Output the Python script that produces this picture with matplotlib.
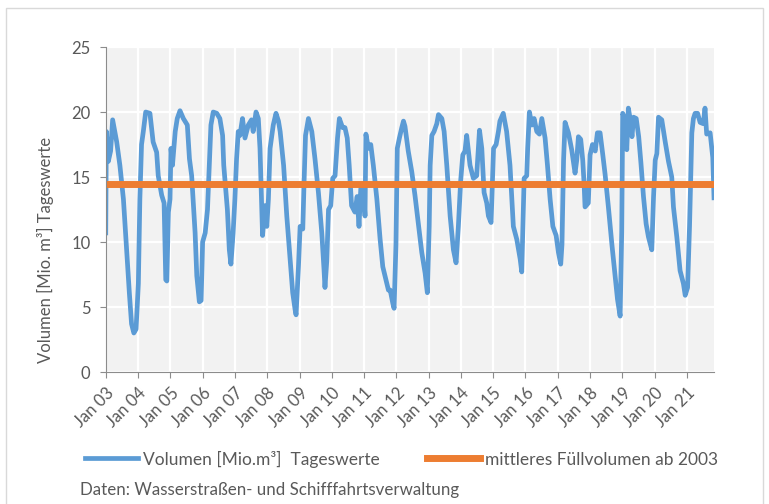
import pandas as pd
import matplotlib.pyplot as plt
import matplotlib.dates as mdates
from matplotlib.patches import Rectangle

plt.rcParams['font.family'] = ['Lato', 'DejaVu Sans']

# Tageswerte (Datum, Volumen in Mio. m³)
dates = [
    '2003-01-01', '2003-01-08', '2003-01-30', '2003-02-25', '2003-03-20', '2003-05-05', '2003-06-10',
    '2003-07-20', '2003-08-25', '2003-09-25', '2003-10-20', '2003-11-15', '2003-12-10',
    '2004-01-05', '2004-01-22', '2004-02-10', '2004-03-01', '2004-03-28', '2004-05-15', '2004-06-20',
    '2004-07-30', '2004-08-17', '2004-09-25', '2004-10-22', '2004-11-10', '2004-11-22', '2004-12-10',
    '2004-12-28',
    '2005-01-08', '2005-01-25', '2005-02-25', '2005-03-20', '2005-04-20', '2005-05-28', '2005-07-12',
    '2005-08-05', '2005-08-30', '2005-10-08', '2005-10-27', '2005-11-25', '2005-12-15',
    '2006-01-01', '2006-01-30', '2006-02-25', '2006-03-18', '2006-04-05', '2006-05-01', '2006-06-10',
    '2006-07-15', '2006-08-15', '2006-08-28', '2006-10-08', '2006-10-30', '2006-11-17', '2006-12-12',
    '2007-01-01', '2007-01-20', '2007-02-08', '2007-02-27', '2007-03-28', '2007-04-25', '2007-06-02',
    '2007-07-08', '2007-07-27', '2007-08-28', '2007-09-23', '2007-10-12', '2007-11-10', '2007-12-07',
    '2007-12-28',
    '2008-01-15', '2008-02-03', '2008-03-10', '2008-04-10', '2008-05-08', '2008-05-27', '2008-07-05',
    '2008-08-10', '2008-09-17', '2008-10-16', '2008-11-12', '2008-11-23', '2008-12-20',
    '2009-01-08', '2009-02-07', '2009-02-22', '2009-03-10', '2009-04-12', '2009-05-20', '2009-06-25',
    '2009-08-03', '2009-09-10', '2009-10-05', '2009-10-16', '2009-11-05', '2009-11-25', '2009-12-20',
    '2010-01-12', '2010-02-07', '2010-03-07', '2010-03-28', '2010-05-03', '2010-05-30', '2010-06-25',
    '2010-07-17', '2010-08-13', '2010-09-20', '2010-10-15', '2010-11-05', '2010-11-25', '2010-12-25',
    '2011-01-12', '2011-01-22', '2011-02-20', '2011-03-18', '2011-04-16', '2011-05-26', '2011-07-02',
    '2011-08-01', '2011-08-26', '2011-10-04', '2011-10-24', '2011-11-22', '2011-12-07', '2011-12-28',
    '2012-01-12', '2012-02-05', '2012-03-03', '2012-03-22', '2012-04-08', '2012-05-15', '2012-06-24',
    '2012-07-30', '2012-09-05', '2012-10-15', '2012-11-22', '2012-12-17',
    '2013-01-07', '2013-01-18', '2013-02-06', '2013-03-03', '2013-04-03', '2013-04-22', '2013-05-30',
    '2013-06-25', '2013-07-25', '2013-09-01', '2013-10-08', '2013-11-07', '2013-12-03', '2013-12-29',
    '2014-01-22', '2014-02-16', '2014-03-07', '2014-04-14', '2014-05-22', '2014-06-28', '2014-07-30',
    '2014-08-25', '2014-09-20', '2014-10-20', '2014-11-08', '2014-12-08',
    '2015-01-05', '2015-02-03', '2015-03-01', '2015-03-18', '2015-04-25', '2015-06-02', '2015-07-10',
    '2015-08-17', '2015-09-25', '2015-11-02', '2015-11-20', '2015-12-17',
    '2016-01-15', '2016-01-26', '2016-02-15', '2016-03-13', '2016-04-08', '2016-05-08', '2016-06-07',
    '2016-07-04', '2016-08-10', '2016-09-06', '2016-10-06', '2016-11-06', '2016-12-13',
    '2017-01-08', '2017-02-03', '2017-02-17', '2017-03-07', '2017-03-24', '2017-05-01', '2017-06-07',
    '2017-07-15', '2017-08-03', '2017-08-22', '2017-09-17', '2017-10-10', '2017-10-25', '2017-11-05',
    '2017-12-12',
    '2018-01-01', '2018-01-28', '2018-02-28', '2018-03-25', '2018-04-24', '2018-05-25', '2018-06-20',
    '2018-07-27', '2018-09-05', '2018-10-12', '2018-11-07', '2018-12-07', '2018-12-25',
    '2019-01-05', '2019-02-02', '2019-02-20', '2019-03-10', '2019-04-01', '2019-04-20', '2019-05-08',
    '2019-06-07', '2019-07-05', '2019-07-30', '2019-08-28', '2019-09-27', '2019-10-23', '2019-11-30',
    '2019-12-20',
    '2020-01-08', '2020-01-26', '2020-02-14', '2020-03-22', '2020-04-30', '2020-06-06', '2020-07-13',
    '2020-08-01', '2020-09-08', '2020-10-15', '2020-11-22', '2020-12-12',
    '2021-01-08', '2021-01-30', '2021-02-25', '2021-03-15', '2021-04-03', '2021-05-01', '2021-05-30',
    '2021-07-05', '2021-07-24', '2021-08-12', '2021-09-20', '2021-10-20', '2021-11-03',
]
volume = [
    10.7, 18.5, 16.2, 17.0, 19.4, 17.7, 15.9, 13.3, 9.4, 6.1, 3.7, 3.0, 3.3,
    6.8, 13.3, 17.5, 18.5, 20.0, 19.9, 17.7, 16.9, 15.1, 13.6, 13.0, 7.1, 7.0, 12.3, 13.3,
    17.2, 15.9, 18.5, 19.5, 20.1, 19.5, 19.0, 16.4, 15.1, 10.7, 7.4, 5.4, 5.5,
    10.0, 10.7, 12.5, 15.9, 19.0, 20.0, 19.9, 19.5, 18.2, 15.9, 12.5, 9.4, 8.3, 10.7,
    13.3, 16.4, 18.5, 18.2, 19.5, 18.0, 19.0, 19.4, 18.5, 20.0, 19.5, 17.2, 10.5, 12.8, 11.2,
    13.3, 17.2, 19.0, 19.9, 19.3, 18.5, 15.9, 12.0, 8.7, 6.1, 4.8, 4.4, 8.1,
    11.2, 11.0, 14.7, 18.2, 19.5, 18.5, 16.4, 13.8, 10.7, 7.9, 6.5, 8.5, 12.5, 12.8,
    14.9, 15.1, 18.0, 19.5, 18.8, 18.8, 18.0, 15.9, 12.8, 12.3, 13.5, 11.2, 14.1, 14.1,
    12.0, 18.3, 17.2, 17.5, 15.9, 13.3, 10.2, 8.1, 7.4, 6.3, 6.3, 5.3, 4.9, 9.8,
    17.2, 18.0, 18.8, 19.3, 18.9, 17.0, 15.4, 13.6, 11.5, 9.2, 7.6, 6.1,
    11.2, 15.9, 18.2, 18.5, 19.1, 19.8, 19.5, 18.5, 15.9, 12.0, 9.4, 8.4, 11.2, 14.7,
    16.7, 17.0, 18.2, 15.9, 14.9, 15.1, 18.6, 17.2, 13.8, 13.0, 12.0, 11.5,
    17.2, 17.5, 18.5, 19.3, 19.9, 18.5, 15.9, 11.2, 10.2, 8.7, 7.7, 14.9,
    15.1, 17.2, 20.0, 19.0, 19.5, 18.5, 18.3, 19.5, 18.0, 15.9, 13.3, 11.2, 10.5,
    9.2, 8.3, 9.8, 16.3, 19.2, 18.4, 17.1, 15.3, 16.3, 18.1, 17.9, 16.3, 14.5, 12.7, 13.0,
    16.7, 17.5, 17.0, 18.4, 18.4, 16.7, 15.2, 12.7, 9.8, 7.3, 5.6, 4.3, 10.8,
    19.9, 19.4, 17.1, 20.3, 19.4, 18.1, 19.6, 19.5, 18.1, 16.1, 13.5, 11.4, 10.4, 9.4, 13.5,
    16.3, 16.8, 19.6, 19.4, 17.7, 16.2, 15.0, 12.7, 10.4, 7.8, 6.8, 5.9,
    6.5, 11.2, 18.4, 19.5, 19.9, 19.9, 19.2, 19.1, 20.3, 18.3, 18.4, 16.5, 13.4,
]
mean_volume = 14.45

dates = pd.to_datetime(dates)
text_color = '#595959'

fig = plt.figure(figsize=(7.69, 5.04), dpi=100)
ax = fig.add_axes([0.1375, 0.2619, 0.7910, 0.6448])

# Linien
ax.plot(dates, volume, color='#5B9BD5', lw=3.4, solid_joinstyle='round',
        label='Volumen [Mio.m³]  Tageswerte')
ax.plot([dates[0], dates[-1]], [mean_volume, mean_volume], color='#ED7D31', lw=5,
        label='mittleres Füllvolumen ab 2003')

# Achsen
ax.set_xlim(dates[0], dates[-1])
ax.set_ylim(0, 25)
ax.set_yticks([0, 5, 10, 15, 20, 25])
ax.xaxis.set_major_locator(mdates.YearLocator())
ax.xaxis.set_major_formatter(mdates.DateFormatter('%b %y'))
ax.set_facecolor('#F2F2F2')
ax.grid(color='white', lw=1.6)
ax.set_axisbelow(True)
for s in ['top', 'right']:
    ax.spines[s].set_visible(False)
for s in ['left', 'bottom']:
    ax.spines[s].set_color('#8C8C8C')
ax.tick_params(axis='both', colors='#8C8C8C', labelcolor=text_color, labelsize=12, length=4)
ax.tick_params(axis='y', pad=7)
ax.tick_params(axis='x', pad=5)
plt.setp(ax.get_xticklabels(), rotation=45, ha='right', rotation_mode='anchor')

fig.text(45 / 769, 0.505, 'Volumen [Mio. m³] Tageswerte', rotation=90, ha='center', va='center',
         color=text_color, fontsize=12)

# Legende und Quelle
leg = fig.legend(loc='center left', bbox_to_anchor=(85 / 769, 1 - 459 / 504), ncol=2, frameon=False,
                 fontsize=12.5, handlelength=3.05, handletextpad=0.3, columnspacing=2.7,
                 borderpad=0, borderaxespad=0)
for t in leg.get_texts():
    t.set_color(text_color)
fig.text(80 / 769, 1 - 490 / 504, 'Daten: Wasserstraßen- und Schifffahrtsverwaltung', va='center',
         color=text_color, fontsize=12.2)

# Rahmen um das Diagramm
fig.patches.append(Rectangle((6 / 769, -0.01), 757 / 769, 1.01 - 8 / 504, transform=fig.transFigure,
                             fill=False, ec='#D9D9D9', lw=1))

fig.savefig('out.png', dpi=100)
